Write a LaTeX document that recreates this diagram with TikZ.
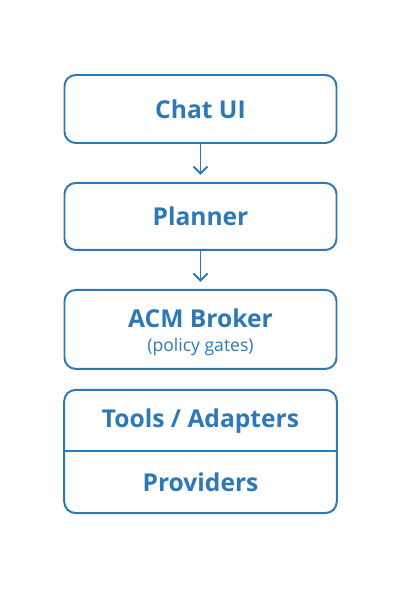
\documentclass[tikz,border=0pt]{standalone}
\usepackage{fontspec}
\setmainfont{Open Sans}
\usetikzlibrary{arrows.meta,positioning}
\definecolor{BoxClr}{rgb}{0.18,0.47,0.71}

\tikzset{
  LayerBox/.style={draw=BoxClr,line width=1.4pt,rounded corners=8pt,
    minimum width=6.8cm,minimum height=1.7cm,text=BoxClr,
    font=\fontsize{17.5}{20}\selectfont\bfseries,align=center},
  LayerPart/.style={minimum width=6.8cm,minimum height=1.525cm,text=BoxClr,
    inner sep=0pt,font=\fontsize{17.5}{20}\selectfont\bfseries},
  FlowArrow/.style={draw=BoxClr,line width=1.4pt,
    -{Straight Barb[length=5pt,width=10pt,line width=1.4pt]},shorten >=5pt}
}

\begin{document}
\begin{tikzpicture}
\useasboundingbox (0,0) rectangle (10,15);

\node[LayerBox] (ChatUI) at (5.0125,12.275) {Chat UI};
\node[LayerBox,below=0.95cm of ChatUI,minimum height=1.675cm] (Planner) {Planner};
\node[LayerBox,below=0.95cm of Planner,minimum height=1.975cm] (Broker)
  {\raisebox{-3pt}[\height][\depth]{\begin{tabular}{@{}c@{}}ACM Broker\\[-3pt]
   {\fontsize{12.5}{14}\selectfont\mdseries (policy gates)}\end{tabular}}};

\node[LayerPart,below=0.5cm of Broker] (Tools) {Tools / Adapters};
\node[LayerPart,below=0pt of Tools] (Providers) {Providers};
\draw[draw=BoxClr,line width=1.4pt,rounded corners=8pt]
  (Tools.north west) rectangle (Providers.south east);
\draw[draw=BoxClr,line width=1.4pt] (Tools.south west) -- (Tools.south east);

\draw[FlowArrow] (ChatUI) -- (Planner);
\draw[FlowArrow] (Planner) -- (Broker);

\end{tikzpicture}
\end{document}
